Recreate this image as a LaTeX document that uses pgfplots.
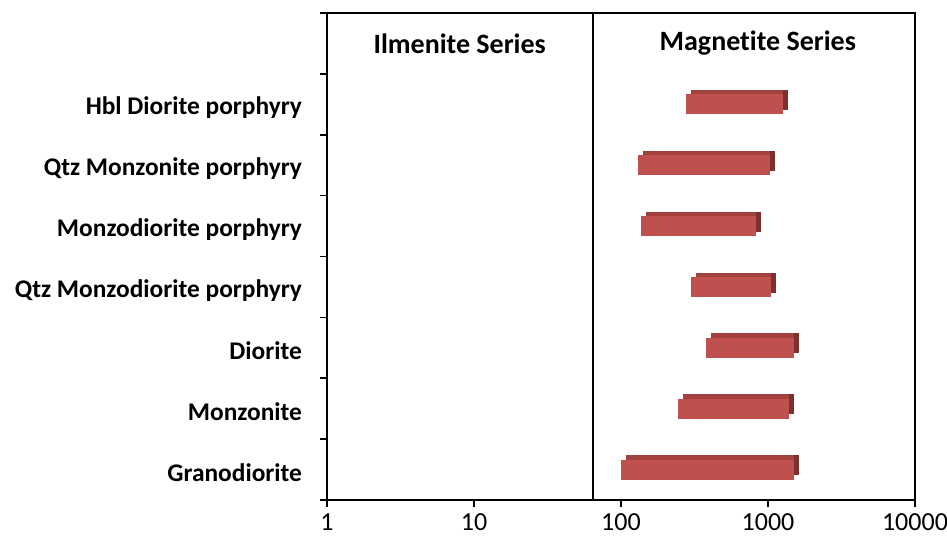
\documentclass[border=0pt]{standalone}
\usepackage{fontspec}
\setmainfont{Carlito}[Ligatures=NoCommon]
\usepackage{pgfplots}
\pgfplotsset{compat=1.18}
\definecolor{barfront}{HTML}{C0504D}
\definecolor{bartop}{HTML}{A3413F}
\definecolor{barside}{HTML}{7E302E}
% y position, lower value, upper value
\newcommand{\rockbar}[3]{%
 \addplot[barside, line width=10pt, xshift=2.5pt, yshift=2.2pt, forget plot] coordinates {(#2,#1) (#3,#1)};
 \addplot[bartop, line width=10pt, xshift=2.5pt, yshift=2.2pt, shorten >=2.5pt, forget plot] coordinates {(#2,#1) (#3,#1)};
 \addplot[barfront, line width=10pt, forget plot] coordinates {(#2,#1) (#3,#1)};
}
\begin{document}
\begin{tikzpicture}
\useasboundingbox (-163.5pt,-24.5pt) rectangle (310pt,250pt);
\begin{axis}[
  at={(0,0)}, anchor=south west,
  scale only axis, width=294pt, height=243.5pt,
  xmode=log, log basis x=10, xmin=1, xmax=10000,
  xtick={1,10,100,1000,10000},
  xticklabels={1,10,100,1000,10000},
  xminorticks=false,
  xtick pos=bottom, ytick pos=left,
  xtick style={black, line width=0.8pt},
  x tick label style={font=\fontsize{13}{15}\selectfont, /pgf/number format/assume math mode=true},
  tick align=outside, major tick length=3.5pt,
  ymin=0.5, ymax=8.5,
  ytick={1,2,3,4,5,6,7},
  yticklabels={Granodiorite, Monzonite, Diorite, Qtz Monzodiorite porphyry, Monzodiorite porphyry, Qtz Monzonite porphyry, Hbl Diorite porphyry},
  ytick style={draw=none},
  y tick label style={font=\fontsize{12.7}{15}\selectfont\bfseries, xshift=-5.5pt, yshift=-1.6pt},
  extra y ticks={0.5,1.5,2.5,3.5,4.5,5.5,6.5,7.5,8.5},
  extra y tick labels={},
  extra y tick style={ytick style={draw=black, line width=0.8pt}, major tick length=3.5pt, tick align=outside},
  axis line style={line width=1pt},
]
\rockbar{1}{100}{1500}
\rockbar{2}{244}{1390}
\rockbar{3}{378}{1500}
\rockbar{4}{300}{1050}
\rockbar{5}{137}{830}
\rockbar{6}{130}{1040}
\rockbar{7}{275}{1270}
\addplot[black, line width=1pt, forget plot] coordinates {(65,0.5) (65,8.5)};
\node[font=\fontsize{14}{16}\selectfont\bfseries] at (axis cs:8,8) {Ilmenite Series};
\node[font=\fontsize{14}{16}\selectfont\bfseries] at (axis cs:853,8) {Magnetite Series};
\end{axis}
\end{tikzpicture}
\end{document}
